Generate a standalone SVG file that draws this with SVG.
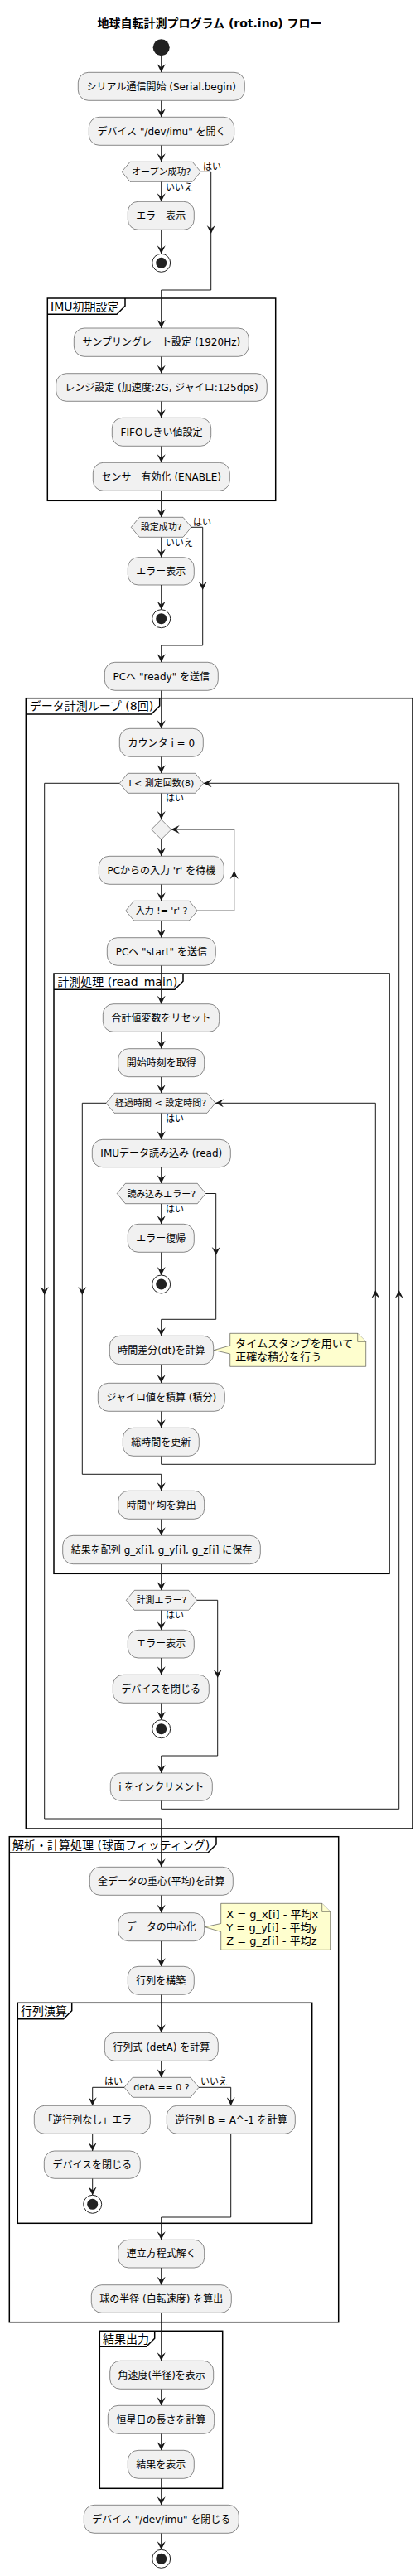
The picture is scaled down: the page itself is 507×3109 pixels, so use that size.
<svg xmlns="http://www.w3.org/2000/svg" xmlns:xlink="http://www.w3.org/1999/xlink" width="507" height="3109" viewBox="0 0 507 3109">
<style>
text{font-family:"DejaVu Sans","Noto Sans CJK JP",sans-serif;fill:#000}
.n{fill:#F1F1F1;stroke:#181818;stroke-width:0.5}
.t{font-size:12px;text-anchor:middle}
.dt{font-size:11px;text-anchor:middle}
.lb{font-size:11px}
.ft{font-size:14px}
.nt{font-size:13px}
.f{fill:none;stroke:#000;stroke-width:1.5}
.c{fill:none;stroke:#181818;stroke-width:1;marker-end:url(#a)}
.cm{fill:none;stroke:#181818;stroke-width:1}
.note{fill:#FEFECE;stroke:#181818;stroke-width:0.5}
.st{fill:#222}
.so{fill:#fff;stroke:#222;stroke-width:1}
</style>
<defs>
<marker id="a" markerWidth="10" markerHeight="10" refX="10" refY="5" orient="auto" markerUnits="userSpaceOnUse"><path d="M0,0 L10,5 L0,10 L4,5 Z" fill="#181818"/></marker>
<path id="ah" d="M-5,-10 L0,0 L5,-10 L0,-6 Z" fill="#181818"/>
<g id="stop"><circle class="so" r="11"/><circle class="st" r="6.5"/></g>
</defs>
<rect width="507" height="3109" fill="#fff"/>
<text x="253" y="33" style="font-size:14px;font-weight:bold;text-anchor:middle">地球自転計測プログラム (rot.ino) フロー</text>

<g id="frames">
<g id="f-imu"><rect class="f" x="57.3" y="360" width="275.4" height="244.3"/><path class="f" d="M57.3,379.3 H141 L151,369.3 V360"/><text class="ft" x="61" y="374.5">IMU初期設定</text></g>
<g id="f-loop"><rect class="f" x="31.3" y="842.7" width="466.7" height="1364.3"/><path class="f" d="M31.3,862 H182.7 L192.7,852 V842.7"/><text class="ft" x="35.7" y="857">データ計測ループ (8回)</text></g>
<g id="f-read"><rect class="f" x="65" y="1175" width="405" height="724.3"/><path class="f" d="M65,1194.3 H211 L221,1184.3 V1175"/><text class="ft" x="69.3" y="1189.5">計測処理 (read_main)</text></g>
<g id="f-anal"><rect class="f" x="11.3" y="2216.7" width="397.4" height="586"/><path class="f" d="M11.3,2236 H251 L261,2226 V2216.7"/><text class="ft" x="15" y="2231.5">解析・計算処理 (球面フィッティング)</text></g>
<g id="f-mat"><rect class="f" x="21.3" y="2417.3" width="355.4" height="266"/><path class="f" d="M21.3,2436.7 H76.7 L86.7,2426.7 V2417.3"/><text class="ft" x="25" y="2432">行列演算</text></g>
<g id="f-out"><rect class="f" x="120.3" y="2813.3" width="148.4" height="190"/><path class="f" d="M120.3,2832.3 H176.7 L186.7,2822.3 V2813.3"/><text class="ft" x="124" y="2827.5">結果出力</text></g>
</g>

<g id="connectors">
<path class="c" d="M194.7,67.3 V87.3"/>
<path class="c" d="M194.7,121.3 V141.3"/>
<path class="c" d="M194.7,175.3 V195.3"/>
<path class="c" d="M194.7,219.3 V243.3"/>
<path class="c" d="M194.7,277.3 V306.3"/>
<path class="c" d="M242.3,207.3 H254.7 V350 H194.7 V396"/><use href="#ah" transform="translate(254.7,282)"/>
<path class="c" d="M194.7,430.3 V450.7"/>
<path class="c" d="M194.7,484.3 V504.3"/>
<path class="c" d="M194.7,538.3 V558.3"/>
<path class="c" d="M194.7,592.3 V624.3"/>
<path class="c" d="M194.7,648.3 V672.7"/>
<path class="c" d="M194.7,706 V735.7"/>
<path class="c" d="M231,636.3 H244.7 V779 H194.7 V799.3"/><use href="#ah" transform="translate(244.7,712)"/>
<path class="c" d="M194.7,833.3 V879.3"/>
<path class="c" d="M194.7,913.3 V933.3"/>
<path class="c" d="M194.7,957.3 V989"/>
<path class="c" d="M194.7,1013 V1033.3"/>
<path class="c" d="M194.7,1067.3 V1087.3"/>
<path class="c" d="M238.3,1099.2 H282.7 V1001 H206.7"/><use href="#ah" transform="translate(282.7,1051) rotate(180)"/>
<path class="c" d="M194.7,1111 V1131.7"/>
<path class="c" d="M194.7,1165.3 V1211.7"/>
<path class="c" d="M194.7,1245.3 V1265.7"/>
<path class="c" d="M194.7,1299.7 V1319.3"/>
<path class="c" d="M194.7,1343.3 V1375.3"/>
<path class="c" d="M194.7,1408.7 V1428.3"/>
<path class="c" d="M194.7,1452.7 V1477.3"/>
<path class="c" d="M194.7,1511.3 V1539"/>
<path class="c" d="M248.3,1440.5 H260.7 V1592.3 H194.7 V1612.3"/><use href="#ah" transform="translate(260.7,1515)"/>
<path class="c" d="M194.7,1646.7 V1669.3"/>
<path class="c" d="M194.7,1703.3 V1723.3"/>
<path class="c" d="M194.7,1757.3 V1767.3 H453.3 V1331.3 H260"/><use href="#ah" transform="translate(453.3,1557) rotate(180)"/>
<path class="c" d="M128,1331.3 H99.3 V1779.3 H194.7 V1799.3"/><use href="#ah" transform="translate(99.3,1563)"/>
<path class="c" d="M194.7,1833.3 V1853.3"/>
<path class="c" d="M194.7,1887.7 V1919.3"/>
<path class="c" d="M194.7,1943.3 V1967.3"/>
<path class="c" d="M194.7,2001 V2021.3"/>
<path class="c" d="M194.7,2055.3 V2075.7"/>
<path class="c" d="M237.7,1931.3 H262.7 V2119 H194.7 V2140"/><use href="#ah" transform="translate(262.7,2025)"/>
<path class="c" d="M194.7,2173.3 V2183.3 H481.7 V945.3 H245.7"/><use href="#ah" transform="translate(481.7,1557) rotate(180)"/>
<path class="c" d="M144.3,945.3 H53.7 V2195 H194.7 V2253.3"/><use href="#ah" transform="translate(53.7,1563)"/>
<path class="c" d="M194.7,2287.3 V2308.7"/>
<path class="c" d="M194.7,2342.7 V2373.3"/>
<path class="c" d="M194.7,2407.3 V2453.3"/>
<path class="c" d="M194.7,2487.3 V2507.3"/>
<path class="c" d="M150,2519.3 H111.7 V2541.3"/>
<path class="c" d="M240,2519.3 H278.7 V2541.3"/>
<path class="c" d="M111.7,2575.3 V2596"/>
<path class="c" d="M111.7,2629.3 V2649.3"/>
<path class="c" d="M278.7,2575.3 V2676 H194.7 V2703.3"/>
<path class="c" d="M194.7,2737 V2757.7"/>
<path class="c" d="M194.7,2791.3 V2849.3"/>
<path class="c" d="M194.7,2883.3 V2903.3"/>
<path class="c" d="M194.7,2937.3 V2957.3"/>
<path class="c" d="M194.7,2991.3 V3023.3"/>
<path class="c" d="M194.7,3057.3 V3077.3"/>
</g>

<g id="labels">
<text class="lb" x="245" y="205">はい</text>
<text class="lb" x="200" y="229.5">いいえ</text>
<text class="lb" x="233" y="634">はい</text>
<text class="lb" x="200" y="659">いいえ</text>
<text class="lb" x="200" y="967">はい</text>
<text class="lb" x="200" y="1354">はい</text>
<text class="lb" x="200" y="1463">はい</text>
<text class="lb" x="200" y="1953">はい</text>
<text class="lb" x="148" y="2516" text-anchor="end">はい</text>
<text class="lb" x="242" y="2516">いいえ</text>
</g>

<g id="start"><circle class="st" cx="194.7" cy="57.3" r="10"/></g>
<g id="n1"><rect class="n" x="94.3" y="87.3" width="201" height="34" rx="12.5"/><text class="t" x="194.8" y="108.6">シリアル通信開始 (Serial.begin)</text></g>
<g id="n2"><rect class="n" x="107.3" y="141.3" width="175.4" height="34" rx="12.5"/><text class="t" x="195" y="162.6">デバイス "/dev/imu" を開く</text></g>
<g id="d1"><polygon class="n" points="147,207.3 157,195.3 232.3,195.3 242.3,207.3 232.3,219.3 157,219.3"/><text class="dt" x="194.7" y="211.3">オープン成功?</text></g>
<g id="e1"><rect class="n" x="154.3" y="243.3" width="80" height="34" rx="12.5"/><text class="t" x="194.3" y="264.6">エラー表示</text></g>
<g id="stop1"><use href="#stop" x="194.7" y="317.3"/></g>
<g id="s1"><rect class="n" x="89.3" y="396" width="211" height="34.3" rx="12.5"/><text class="t" x="194.8" y="417.4">サンプリングレート設定 (1920Hz)</text></g>
<g id="s2"><rect class="n" x="67.7" y="450.7" width="254.6" height="33.6" rx="12.5"/><text class="t" x="195" y="471.8">レンジ設定 (加速度:2G, ジャイロ:125dps)</text></g>
<g id="s3"><rect class="n" x="135.3" y="504.3" width="119.4" height="34" rx="12.5"/><text class="t" x="195" y="525.6">FIFOしきい値設定</text></g>
<g id="s4"><rect class="n" x="112.3" y="558.3" width="165" height="34" rx="12.5"/><text class="t" x="194.8" y="579.6">センサー有効化 (ENABLE)</text></g>
<g id="d2"><polygon class="n" points="158.3,636.3 168.3,624.3 221,624.3 231,636.3 221,648.3 168.3,648.3"/><text class="dt" x="194.7" y="640.3">設定成功?</text></g>
<g id="e2"><rect class="n" x="154.3" y="672.7" width="80" height="33.3" rx="12.5"/><text class="t" x="194.3" y="693.6">エラー表示</text></g>
<g id="stop2"><use href="#stop" x="194.7" y="746.7"/></g>
<g id="ready"><rect class="n" x="126.3" y="799.3" width="137" height="34" rx="12.5"/><text class="t" x="194.8" y="820.6">PCへ "ready" を送信</text></g>
<g id="cnt"><rect class="n" x="144.3" y="879.3" width="101" height="34" rx="12.5"/><text class="t" x="194.8" y="900.6">カウンタ i = 0</text></g>
<g id="w1"><polygon class="n" points="144.3,945.3 154.3,933.3 235.7,933.3 245.7,945.3 235.7,957.3 154.3,957.3"/><text class="dt" x="195" y="949.3">i &lt; 測定回数(8)</text></g>
<g id="sd"><polygon class="n" points="194.7,989 206.7,1001 194.7,1013 182.7,1001"/></g>
<g id="wait"><rect class="n" x="119.3" y="1033.3" width="151" height="34" rx="12.5"/><text class="t" x="194.8" y="1054.6">PCからの入力 'r' を待機</text></g>
<g id="rd"><polygon class="n" points="151.7,1099.2 161.7,1087.3 228.3,1087.3 238.3,1099.2 228.3,1111 161.7,1111"/><text class="dt" x="195" y="1103.2">入力 != 'r' ?</text></g>
<g id="sstart"><rect class="n" x="129.3" y="1131.7" width="131" height="33.6" rx="12.5"/><text class="t" x="194.8" y="1152.8">PCへ "start" を送信</text></g>
<g id="reset"><rect class="n" x="124.3" y="1211.7" width="140.4" height="33.6" rx="12.5"/><text class="t" x="194.5" y="1232.8">合計値変数をリセット</text></g>
<g id="t0"><rect class="n" x="142.7" y="1265.7" width="104" height="34" rx="12.5"/><text class="t" x="194.7" y="1287">開始時刻を取得</text></g>
<g id="w2"><polygon class="n" points="128,1331.3 138,1319.3 250,1319.3 260,1331.3 250,1343.3 138,1343.3"/><text class="dt" x="194" y="1335.3">経過時間 &lt; 設定時間?</text></g>
<g id="imu"><rect class="n" x="111.3" y="1375.3" width="167" height="33.4" rx="12.5"/><text class="t" x="194.8" y="1396.3">IMUデータ読み込み (read)</text></g>
<g id="d3"><polygon class="n" points="141.3,1440.5 151.3,1428.3 238.3,1428.3 248.3,1440.5 238.3,1452.7 151.3,1452.7"/><text class="dt" x="194.8" y="1444.5">読み込みエラー?</text></g>
<g id="rec"><rect class="n" x="154.3" y="1477.3" width="80" height="34" rx="12.5"/><text class="t" x="194.3" y="1498.6">エラー復帰</text></g>
<g id="stop3"><use href="#stop" x="194.7" y="1550"/></g>
<g id="dt"><rect class="n" x="132.3" y="1612.3" width="125.4" height="34.4" rx="12.5"/><text class="t" x="195" y="1633.8">時間差分(dt)を計算</text></g>
<g id="note1"><path class="note" d="M277.7,1609.3 H431.7 L441.7,1619.3 V1649.3 H277.7 V1634 L258.3,1629.5 L277.7,1624 Z"/><path class="note" d="M431.7,1609.3 V1619.3 H441.7"/><text class="nt" x="284.3" y="1626">タイムスタンプを用いて</text><text class="nt" x="284.3" y="1641.5">正確な積分を行う</text></g>
<g id="gyro"><rect class="n" x="118.3" y="1669.3" width="153" height="34" rx="12.5"/><text class="t" x="194.8" y="1690.6">ジャイロ値を積算 (積分)</text></g>
<g id="tot"><rect class="n" x="148.3" y="1723.3" width="92" height="34" rx="12.5"/><text class="t" x="194.3" y="1744.6">総時間を更新</text></g>
<g id="avg"><rect class="n" x="142.7" y="1799.3" width="104" height="34" rx="12.5"/><text class="t" x="194.7" y="1820.6">時間平均を算出</text></g>
<g id="save"><rect class="n" x="75.7" y="1853.3" width="238.6" height="34.4" rx="12.5"/><text class="t" x="195" y="1874.8">結果を配列 g_x[i], g_y[i], g_z[i] に保存</text></g>
<g id="d4"><polygon class="n" points="152.3,1931.3 162.3,1919.3 227.7,1919.3 237.7,1931.3 227.7,1943.3 162.3,1943.3"/><text class="dt" x="195" y="1935.3">計測エラー?</text></g>
<g id="e3"><rect class="n" x="154.3" y="1967.3" width="80" height="33.7" rx="12.5"/><text class="t" x="194.3" y="1988.4">エラー表示</text></g>
<g id="close1"><rect class="n" x="136.3" y="2021.3" width="116" height="34" rx="12.5"/><text class="t" x="194.3" y="2042.6">デバイスを閉じる</text></g>
<g id="stop4"><use href="#stop" x="194.7" y="2086.7"/></g>
<g id="inc"><rect class="n" x="133.3" y="2140" width="123" height="33.3" rx="12.5"/><text class="t" x="194.8" y="2160.9">i をインクリメント</text></g>
<g id="cg"><rect class="n" x="108.3" y="2253.3" width="173" height="34" rx="12.5"/><text class="t" x="194.8" y="2274.6">全データの重心(平均)を計算</text></g>
<g id="cen"><rect class="n" x="142.7" y="2308.7" width="104" height="34" rx="12.5"/><text class="t" x="194.7" y="2330">データの中心化</text></g>
<g id="note2"><path class="note" d="M266.7,2297.3 H388.7 L398.7,2307.3 V2353.3 H266.7 V2331.5 L247.3,2325.7 L266.7,2321.5 Z"/><path class="note" d="M388.7,2297.3 V2307.3 H398.7"/><text class="nt" x="273.3" y="2314.5">X = g_x[i] - 平均x</text><text class="nt" x="273.3" y="2330.5">Y = g_y[i] - 平均y</text><text class="nt" x="273.3" y="2346.5">Z = g_z[i] - 平均z</text></g>
<g id="mat"><rect class="n" x="154.3" y="2373.3" width="80" height="34" rx="12.5"/><text class="t" x="194.3" y="2394.6">行列を構築</text></g>
<g id="det"><rect class="n" x="126.3" y="2453.3" width="137" height="34" rx="12.5"/><text class="t" x="194.8" y="2474.6">行列式 (detA) を計算</text></g>
<g id="d5"><polygon class="n" points="150,2519.3 160,2507.3 230,2507.3 240,2519.3 230,2531.3 160,2531.3"/><text class="dt" x="195" y="2523.3">detA == 0 ?</text></g>
<g id="noinv"><rect class="n" x="41.3" y="2541.3" width="140" height="34" rx="12.5"/><text class="t" x="111.3" y="2562.6">「逆行列なし」エラー</text></g>
<g id="inv"><rect class="n" x="201.3" y="2541.3" width="155" height="34" rx="12.5"/><text class="t" x="278.8" y="2562.6">逆行列 B = A^-1 を計算</text></g>
<g id="close2"><rect class="n" x="53.3" y="2596" width="116" height="33.3" rx="12.5"/><text class="t" x="111.3" y="2616.9">デバイスを閉じる</text></g>
<g id="stop5"><use href="#stop" x="111.7" y="2660.3"/></g>
<g id="solve"><rect class="n" x="142.7" y="2703.3" width="104" height="33.7" rx="12.5"/><text class="t" x="194.7" y="2724.4">連立方程式解く</text></g>
<g id="rad"><rect class="n" x="110.3" y="2757.7" width="169" height="33.6" rx="12.5"/><text class="t" x="194.8" y="2778.8">球の半径 (自転速度) を算出</text></g>
<g id="ang"><rect class="n" x="132.7" y="2849.3" width="125" height="34" rx="12.5"/><text class="t" x="195.2" y="2870.6">角速度(半径)を表示</text></g>
<g id="sid"><rect class="n" x="130.3" y="2903.3" width="128.4" height="34" rx="12.5"/><text class="t" x="194.5" y="2924.6">恒星日の長さを計算</text></g>
<g id="res"><rect class="n" x="154.3" y="2957.3" width="80" height="34" rx="12.5"/><text class="t" x="194.3" y="2978.6">結果を表示</text></g>
<g id="closeF"><rect class="n" x="101.3" y="3023.3" width="187" height="34" rx="12.5"/><text class="t" x="194.8" y="3044.6">デバイス "/dev/imu" を閉じる</text></g>
<g id="stop6"><use href="#stop" x="194.7" y="3088.3"/></g>
</svg>
